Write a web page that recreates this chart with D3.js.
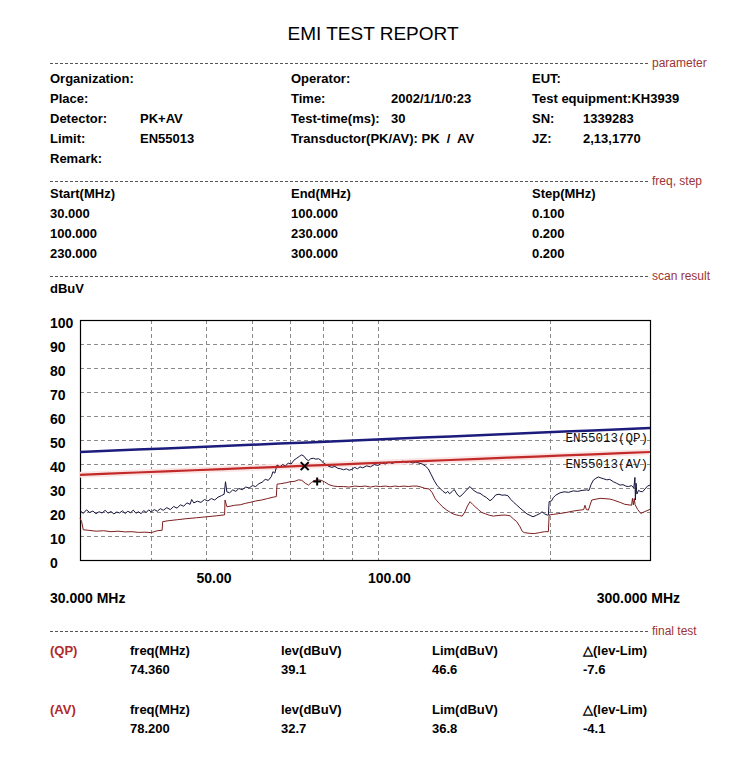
<!DOCTYPE html>
<html>
<head>
<meta charset="utf-8">
<script src="https://d3js.org/d3.v7.min.js"></script>
<style>
  body {margin: 0; background: #fff;}
  text {font-family: "Liberation Sans", Arial, sans-serif; fill: #000;}
  .info {font-size: 13px; font-weight: bold; white-space: pre;}
  .sect {font-size: 12px; fill: #9a3434;}
  .sep {stroke: #555; stroke-width: 1; stroke-dasharray: 3,2;}
  .grid {stroke: #8a8a8a; stroke-width: 1; stroke-dasharray: 4,3;}
  .tick {font-size: 14px; font-weight: bold;}
  .limlab {font-family: "Liberation Mono", "Courier New", monospace; font-size: 12.5px; fill: #111;}
</style>
</head>
<body>
<script>
  // ---- data ----
  const yTicks = [0, 10, 20, 30, 40, 50, 60, 70, 80, 90, 100];
  const xGrid = [40, 50, 60, 70, 80, 90, 100, 200];
  const xLabels = [50, 100];

  const limitFreq = [30, 300];
  const qpLimit = [45, 55];
  const avLimit = [35.5, 45];

  // peak scan trace [MHz, dBuV]
  const pkTrace = [
    [30.0,20.6],[30.4,19.4],[30.8,20.9],[31.2,19.8],[31.6,20.4],[32.0,19.3],[32.4,20.1],[32.8,19.6],
    [33.2,20.7],[33.6,19.5],[34.0,20.2],[34.4,19.2],[34.8,20.0],[35.2,19.6],[35.6,20.5],[36.0,19.4],
    [36.4,20.3],[36.8,19.7],[37.2,20.8],[37.6,19.5],[38.0,20.1],[38.4,19.3],[38.8,20.6],[39.2,19.8],
    [39.6,20.9],[40.0,20.0],[40.5,21.0],[41.0,20.3],[41.5,21.4],[42.0,20.7],[42.6,21.8],[43.2,21.0],
    [43.8,22.3],[44.4,21.6],[45.0,23.0],[45.6,22.4],[46.2,23.8],[46.8,23.2],[47.1,25.2],[47.5,23.8],
    [48.2,24.5],[48.9,24.0],[49.6,25.2],[50.3,24.6],[51.0,25.6],[51.7,25.0],[52.4,26.2],[53.1,26.8],
    [53.7,27.4],[54.0,32.6],[54.3,28.4],[54.9,28.0],[55.6,29.2],[56.3,28.6],[57.0,29.8],[57.8,29.3],
    [58.6,30.4],[59.4,30.0],[60.2,31.0],[61.0,30.6],[61.8,31.8],[62.6,32.4],[63.4,33.6],[64.2,33.2],
    [65.0,34.8],[65.4,36.8],[65.9,36.2],[66.5,39.6],[67.3,38.8],[68.0,39.8],[68.8,39.2],[69.6,40.4],
    [70.4,40.0],[71.2,41.6],[72.0,42.4],[72.8,43.2],[73.5,43.8],[74.2,43.2],[74.8,42.0],[75.5,41.4],
    [76.2,42.2],[77.0,42.4],[77.8,42.0],[78.6,42.2],[79.4,41.6],[80.2,40.4],[81.0,39.8],[82.0,39.0],
    [83.0,38.6],[84.0,39.0],[85.0,38.2],[86.0,38.0],[87.0,37.6],[88.0,38.0],[89.0,37.4],[90.0,37.8],
    [91.0,38.6],[92.0,38.0],[93.0,38.8],[94.0,38.4],[95.5,39.2],[97.0,38.8],[98.5,39.8],[100.0,39.4],
    [101.5,40.4],[103.0,40.0],[104.5,40.8],[106.0,40.2],[107.5,41.0],[109.0,40.6],[110.5,41.2],[112.0,40.6],
    [113.5,41.0],[115.0,40.4],[116.5,40.8],[118.0,40.4],[119.5,40.0],[121.0,39.2],[122.5,38.0],[124.0,35.5],
    [125.5,33.0],[127.0,31.0],[128.5,29.8],[130.0,28.6],[131.5,27.8],[132.5,28.6],[133.5,27.6],[135.0,28.6],
    [136.0,29.4],[137.0,28.2],[138.0,27.0],[139.2,26.4],[140.5,27.2],[142.0,28.4],[143.5,29.6],[145.0,30.6],
    [146.5,29.4],[148.0,28.6],[149.5,28.0],[151.0,27.8],[153.0,26.8],[155.0,26.0],[157.2,24.7],[159.0,25.6],
    [160.8,27.1],[163.0,27.4],[165.0,27.0],[167.0,27.1],[169.0,26.8],[171.0,25.2],[173.0,24.0],[175.1,22.9],
    [177.5,21.6],[180.0,20.4],[182.5,19.2],[184.8,18.6],[187.0,18.0],[189.5,18.6],[192.4,19.4],[194.0,20.1],
    [196.0,19.2],[198.2,18.7],[199.0,18.8],[199.6,24.3],[201.5,24.6],[203.0,26.0],[205.0,27.0],[208.6,28.0],
    [212.0,28.4],[216.0,28.2],[220.0,28.8],[224.0,28.6],[228.0,29.0],[232.0,29.2],[234.5,29.0],[236.5,31.5],
    [238.7,33.3],[241.0,34.0],[243.5,34.6],[246.0,34.2],[249.0,33.8],[252.0,33.4],[255.0,33.6],[258.7,32.6],
    [262.0,32.0],[265.9,31.2],[269.0,31.4],[272.0,30.8],[275.0,30.6],[278.5,31.0],[281.0,30.0],[282.3,34.4],
    [282.8,25.0],[283.6,32.0],[284.5,27.5],[286.5,29.0],[288.2,28.6],[291.0,28.4],[294.0,29.6],[297.0,30.8],
    [300.0,31.2]
  ];

  // average scan trace [MHz, dBuV]
  const avTrace = [
    [30.0,17.4],[30.2,16.0],[30.4,12.6],[31.0,12.4],[32.0,12.0],[33.0,12.2],[34.0,11.8],[35.0,12.0],
    [36.0,11.7],[37.0,11.8],[38.0,11.5],[39.0,11.6],[40.0,11.4],[41.0,12.2],[41.8,12.4],[41.9,16.0],
    [43.0,16.4],[44.5,16.8],[46.0,17.2],[48.0,17.6],[50.0,18.0],[52.0,18.4],[53.8,18.8],[53.9,25.0],
    [54.3,22.2],[55.0,22.4],[56.0,22.8],[57.3,23.0],[58.5,23.6],[59.6,24.0],[61.0,24.6],[62.5,25.0],
    [64.0,25.6],[65.5,26.2],[66.3,26.4],[66.5,31.6],[67.5,31.8],[69.0,32.2],[70.1,32.6],[71.5,32.8],
    [72.5,33.4],[73.5,33.2],[74.5,32.0],[75.5,31.2],[76.5,32.4],[77.5,33.2],[78.5,33.4],[79.5,33.2],
    [80.5,32.6],[82.0,31.4],[83.5,30.8],[85.0,30.6],[87.0,30.6],[89.0,30.4],[91.0,30.8],[93.0,30.6],
    [95.0,30.8],[97.0,30.4],[99.0,30.8],[101.0,30.6],[103.0,30.8],[105.0,30.5],[107.0,30.8],[109.0,30.6],
    [111.0,30.8],[113.0,30.6],[115.0,30.8],[117.0,30.8],[119.0,30.4],[121.0,29.8],[123.0,29.6],[124.5,28.0],
    [126.0,25.5],[128.0,23.6],[130.0,22.0],[132.0,20.8],[134.0,19.8],[136.0,19.0],[137.5,18.75],[139.0,18.5],
    [140.5,18.3],[142.0,20.0],[143.5,22.5],[145.0,24.3],[146.5,23.2],[148.0,22.2],[150.0,21.0],[152.0,19.8],
    [154.5,19.2],[157.0,18.6],[159.5,18.3],[163.0,18.6],[167.0,18.75],[170.5,18.4],[173.0,17.0],[175.1,16.0],
    [177.5,13.8],[179.0,12.0],[180.5,11.4],[184.8,11.1],[188.0,11.0],[192.0,11.4],[196.0,11.8],[199.0,11.8],
    [199.6,18.8],[203.0,19.0],[208.6,19.4],[214.0,19.8],[220.0,20.4],[226.2,20.8],[229.5,21.0],[230.7,22.8],
    [232.0,21.0],[233.9,20.8],[237.1,25.0],[245.2,25.7],[255.0,25.4],[258.7,25.0],[265.9,24.0],[271.0,23.2],
    [276.8,22.9],[278.5,22.8],[279.5,25.7],[280.5,23.0],[281.5,25.6],[282.5,23.0],[285.5,21.0],[289.0,19.4],
    [294.0,20.2],[300.0,21.1]
  ];

  const finalDet = ["(QP)", "(AV)"];
  const finalFreq = [74.36, 78.2];
  const finalLev = [39.1, 32.7];
  const finalLim = [46.6, 36.8];
  const finalDelta = [-7.6, -4.1];

  const paramRows = [
    ["Organization:", "", "Operator:", "", "EUT:", ""],
    ["Place:", "", "Time:", "2002/1/1/0:23", "Test equipment:KH3939", ""],
    ["Detector:", "PK+AV", "Test-time(ms):", "30", "SN:", "1339283"],
    ["Limit:", "EN55013", "Transductor(PK/AV): PK  /  AV", "", "JZ:", "2,13,1770"],
    ["Remark:", "", "", "", "", ""]
  ];
  const stepRows = [
    ["Start(MHz)", "End(MHz)", "Step(MHz)"],
    ["30.000", "100.000", "0.100"],
    ["100.000", "230.000", "0.200"],
    ["230.000", "300.000", "0.200"]
  ];
  const sections = [[63, "parameter"], [181, "freq, step"], [276, "scan result"], [631, "final test"]];

  // ---- layout ----
  const width = 750, height = 761;
  const svg = d3.select("body").append("svg")
      .attr("width", width)
      .attr("height", height);

  svg.append("text")
      .attr("x", 373).attr("y", 39.5)
      .attr("text-anchor", "middle")
      .style("font-size", "19px")
      .text("EMI TEST REPORT");

  sections.forEach(([yy, label]) => {
    svg.append("line").attr("class", "sep")
        .attr("x1", 50).attr("x2", 648).attr("y1", yy + 0.5).attr("y2", yy + 0.5);
    svg.append("text").attr("class", "sect")
        .attr("x", 652).attr("y", yy + 4).text(label);
  });

  const paramCols = [50, 140, 291, 391, 532, 583];
  paramRows.forEach((row, i) => {
    row.forEach((t, j) => {
      if (!t) return;
      svg.append("text").attr("class", "info")
          .attr("x", paramCols[j]).attr("y", 83 + i * 20).text(t);
    });
  });

  const stepCols = [50, 291, 532];
  stepRows.forEach((row, i) => {
    row.forEach((t, j) => {
      svg.append("text").attr("class", "info")
          .attr("x", stepCols[j]).attr("y", 198 + i * 20).text(t);
    });
  });

  svg.append("text").attr("class", "info").attr("x", 50).attr("y", 293).text("dBuV");

  // ---- chart ----
  const x = d3.scaleLog().domain([30, 300]).range([80, 650]);
  const y = d3.scaleLinear().domain([0, 100]).range([560, 320]);

  const plot = svg.append("g");

  plot.selectAll(".hgrid")
      .data(yTicks.filter(d => d > 0 && d < 100))
    .enter().append("line")
      .attr("class", "grid")
      .attr("x1", x(30)).attr("x2", x(300))
      .attr("y1", d => Math.round(y(d)) + 0.5)
      .attr("y2", d => Math.round(y(d)) + 0.5);

  plot.selectAll(".vgrid")
      .data(xGrid)
    .enter().append("line")
      .attr("class", "grid")
      .attr("x1", d => Math.round(x(d)) + 0.5)
      .attr("x2", d => Math.round(x(d)) + 0.5)
      .attr("y1", y(100)).attr("y2", y(0));

  plot.append("rect")
      .attr("x", x(30) + 0.5).attr("y", y(100) + 0.5)
      .attr("width", x(300) - x(30)).attr("height", y(0) - y(100))
      .attr("fill", "none").attr("stroke", "#000").attr("stroke-width", 1.2);

  svg.selectAll(".ylab")
      .data(yTicks)
    .enter().append("text")
      .attr("class", "tick")
      .attr("x", 50).attr("y", d => y(d) + 8)
      .text(d => d);

  svg.selectAll(".xlab")
      .data(xLabels)
    .enter().append("text")
      .attr("class", "tick")
      .attr("x", d => x(d) - 10).attr("y", 583)
      .text(d => d.toFixed(2));

  svg.append("text").attr("class", "tick").attr("x", 50).attr("y", 603)
      .text(d3.format(".3f")(x.domain()[0]) + " MHz");
  svg.append("text").attr("class", "tick").attr("x", 680).attr("y", 603)
      .attr("text-anchor", "end")
      .text(d3.format(".3f")(x.domain()[1]) + " MHz");

  const line = d3.line().x(d => x(d[0])).y(d => y(d[1]));

  // limit lines are straight on the log axis: sample them along it
  const limPts = (vals) => d3.range(0, 1.0001, 0.05).map(t => {
    const f = limitFreq[0] * Math.pow(limitFreq[1] / limitFreq[0], t);
    return [f, vals[0] + (vals[1] - vals[0]) * t];
  });

  plot.append("path")
      .attr("d", line(limPts(avLimit)))
      .attr("fill", "none").attr("stroke", "#fae4e4").attr("stroke-width", 6);

  plot.append("path")
      .attr("d", line(avTrace))
      .attr("fill", "none").attr("stroke", "#7d1e1e").attr("stroke-width", 1);

  plot.append("path")
      .attr("d", line(pkTrace))
      .attr("fill", "none").attr("stroke", "#14143c").attr("stroke-width", 1);

  plot.append("path")
      .attr("d", line(limPts(qpLimit)))
      .attr("fill", "none").attr("stroke", "#1c1c7c").attr("stroke-width", 2.5);

  plot.append("path")
      .attr("d", line(limPts(avLimit)))
      .attr("fill", "none").attr("stroke", "#c22a2a").attr("stroke-width", 2.2);

  svg.append("text").attr("class", "limlab")
      .attr("x", 648).attr("y", 442).attr("text-anchor", "end").text("EN55013(QP)");
  svg.append("text").attr("class", "limlab")
      .attr("x", 648).attr("y", 468).attr("text-anchor", "end").text("EN55013(AV)");

  // final test markers
  const mk = 4;
  const qx = x(finalFreq[0]), qy = y(finalLev[0]);
  plot.append("path")
      .attr("d", `M${qx - mk},${qy - mk}L${qx + mk},${qy + mk}M${qx - mk},${qy + mk}L${qx + mk},${qy - mk}`)
      .attr("stroke", "#000").attr("stroke-width", 2);
  const ax = x(finalFreq[1]), ay = y(finalLev[1]);
  plot.append("path")
      .attr("d", `M${ax - mk},${ay}L${ax + mk},${ay}M${ax},${ay - mk}L${ax},${ay + mk}`)
      .attr("stroke", "#000").attr("stroke-width", 2);

  // ---- final test table ----
  const tblCols = [50, 130, 281, 432, 583];
  finalDet.forEach((det, i) => {
    const y0 = 655 + i * 59;
    svg.append("text").attr("class", "info").attr("x", tblCols[0]).attr("y", y0)
        .style("fill", "#b02a2a").text(det);
    ["freq(MHz)", "lev(dBuV)", "Lim(dBuV)", "\u25B3(lev-Lim)"].forEach((h, j) => {
      svg.append("text").attr("class", "info").attr("x", tblCols[j + 1]).attr("y", y0).text(h);
    });
    [finalFreq[i].toFixed(3), finalLev[i].toFixed(1), finalLim[i].toFixed(1), finalDelta[i].toFixed(1)]
      .forEach((v, j) => {
        svg.append("text").attr("class", "info").attr("x", tblCols[j + 1]).attr("y", y0 + 19).text(v);
      });
  });
</script>
</body>
</html>
